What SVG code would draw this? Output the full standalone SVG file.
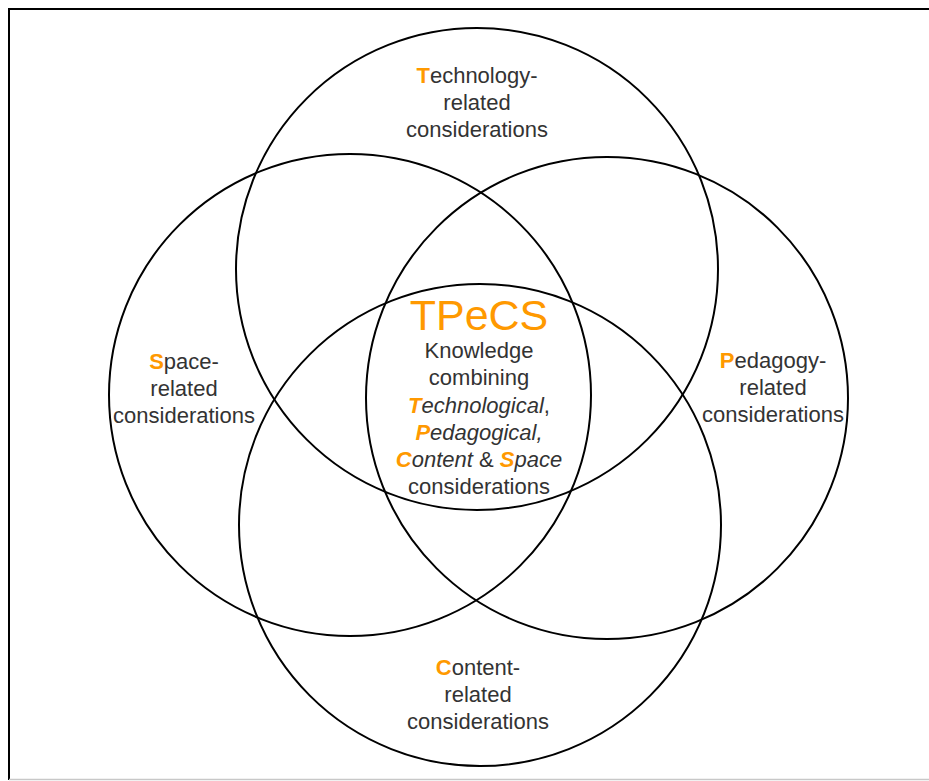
<svg xmlns="http://www.w3.org/2000/svg" width="929" height="781" viewBox="0 0 929 781">
  <style>
    .ring { fill: none; stroke: #000; stroke-width: 2; }
    .lbl { font-family: "Liberation Sans", Arial, sans-serif; font-size: 22px; fill: #333; text-anchor: middle; }
    .key { fill: #FF9900; font-weight: bold; }
    .title { font-family: "Liberation Sans", Arial, sans-serif; font-size: 43px; fill: #FF9900; text-anchor: middle; }
    .it { font-style: italic; }
  </style>
  <rect x="0" y="0" width="929" height="781" fill="#fff"/>
  <!-- frame -->
  <path d="M9,780 V9 H929" fill="none" stroke="#000" stroke-width="2"/>
  <line x1="9" y1="779.5" x2="929" y2="779.5" stroke="#c8c8c8" stroke-width="1.5"/>

  <!-- four overlapping spheres of consideration -->
  <g id="technology">
    <circle class="ring" cx="477" cy="269" r="241"/>
    <text class="lbl" x="477" y="83"><tspan class="key">T</tspan>echnology-</text>
    <text class="lbl" x="477" y="110">related</text>
    <text class="lbl" x="477" y="137">considerations</text>
  </g>
  <g id="space">
    <circle class="ring" cx="350" cy="395" r="241"/>
    <text class="lbl" x="184" y="369"><tspan class="key">S</tspan>pace-</text>
    <text class="lbl" x="184" y="396">related</text>
    <text class="lbl" x="184" y="423">considerations</text>
  </g>
  <g id="pedagogy">
    <circle class="ring" cx="607" cy="398" r="241"/>
    <text class="lbl" x="773" y="368"><tspan class="key">P</tspan>edagogy-</text>
    <text class="lbl" x="773" y="395">related</text>
    <text class="lbl" x="773" y="422">considerations</text>
  </g>
  <g id="content">
    <circle class="ring" cx="480" cy="525" r="241"/>
    <text class="lbl" x="478" y="675"><tspan class="key">C</tspan>ontent-</text>
    <text class="lbl" x="478" y="702">related</text>
    <text class="lbl" x="478" y="729">considerations</text>
  </g>

  <!-- central intersection -->
  <g id="tpecs">
    <text class="title" x="479" y="330">TPeCS</text>
    <text class="lbl" x="479" y="358">Knowledge</text>
    <text class="lbl" x="479" y="385">combining</text>
    <text class="lbl" x="479" y="413"><tspan class="key it">T</tspan><tspan class="it">echnological</tspan>,</text>
    <text class="lbl" x="479" y="440"><tspan class="key it">P</tspan><tspan class="it">edagogical,</tspan></text>
    <text class="lbl" x="479" y="467"><tspan class="key it">C</tspan><tspan class="it">ontent</tspan> &amp; <tspan class="key it">S</tspan><tspan class="it">pace</tspan></text>
    <text class="lbl" x="479" y="494">considerations</text>
  </g>
  <g id="connectors"></g>
</svg>
